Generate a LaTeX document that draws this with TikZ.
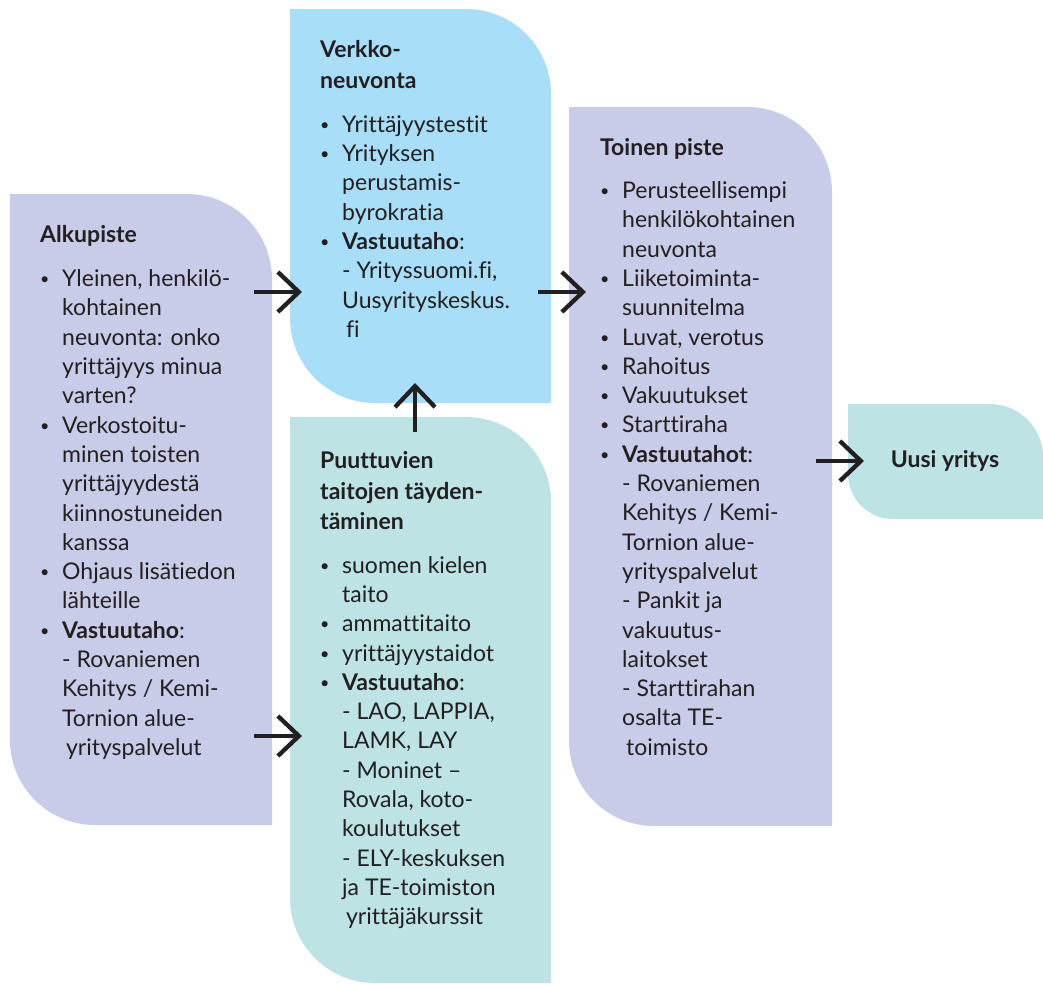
\documentclass[tikz,border=0pt]{standalone}
\usepackage{fontspec}
\setmainfont{Lato}[Ligatures=NoCommon]
\usetikzlibrary{arrows.meta,calc}
\definecolor{lila}{HTML}{C9CCE8}
\definecolor{taivas}{HTML}{A9DEF9}
\definecolor{turkoosi}{HTML}{BDE3E5}
\definecolor{tumma}{HTML}{231F20}
\newcommand{\pallo}{\makebox[22pt][l]{\raisebox{2pt}{\scalebox{0.7}{\textbullet}}}}
\newcommand{\sis}{\hspace*{22pt}}

\begin{document}
\begin{tikzpicture}[x=1pt,y=-1pt,
  laatikkoteksti/.style={anchor=north west,align=left,inner sep=0pt,text=tumma,font=\fontsize{23}{29.3}\selectfont},
  nuoli/.style={draw=tumma,line width=4.3pt,-{Straight Barb[length=21pt,width=40pt]}}]
\useasboundingbox (0,0) rectangle (1043,983);
\foreach \l/\t/\r/\b/\v in {10/194/272/825/lila, 290/9/551/403/taivas, 290/417/551/983/turkoosi, 569/107/832/826/lila}
	\fill[\v] (\l,\t) -- (\r-85,\t) arc[start angle=-90,end angle=0,radius=85] -- (\r,\b) -- (\l+85,\b) arc[start angle=90,end angle=180,radius=85] -- cycle;
\fill[turkoosi] (848,404) -- (990,404) arc[start angle=-90,end angle=0,radius=53] -- (1043,519) -- (893,519) arc[start angle=90,end angle=180,radius=45] -- cycle;

\node[laatikkoteksti] (alku) at (40,225) {\textbf{Alkupiste}\\[15pt]
\pallo Yleinen, henkilö-\\
\sis kohtainen\\
\sis neuvonta: onko\\
\sis yrittäjyys minua\\
\sis varten?\\
\pallo Verkostoitu-\\
\sis minen toisten\\
\sis yrittäjyydestä\\
\sis kiinnostuneiden\\
\sis kanssa\\
\pallo Ohjaus lisätiedon\\
\sis lähteille\\
\pallo \textbf{Vastuutaho}:\\
\sis - Rovaniemen\\
\sis Kehitys / Kemi-\\
\sis Tornion alue-\\
\sis\,yrityspalvelut};

\node[laatikkoteksti] (verkko) at (320,40) {\textbf{Verkko-}\\[1.5pt]
\textbf{neuvonta}\\[15pt]
\pallo Yrittäjyystestit\\
\pallo Yrityksen\\
\sis perustamis-\\
\sis byrokratia\\
\pallo \textbf{Vastuutaho}:\\
\sis - Yrityssuomi.fi,\\
\sis Uusyrityskeskus.\\
\sis\,fi};

\node[laatikkoteksti] (puute) at (320,451) {\textbf{Puuttuvien}\\[1.5pt]
\textbf{taitojen täyden-}\\[1.5pt]
\textbf{täminen}\\[14pt]
\pallo suomen kielen\\
\sis taito\\
\pallo ammattitaito\\
\pallo yrittäjyystaidot\\
\pallo \textbf{Vastuutaho}:\\
\sis - LAO, LAPPIA,\\
\sis LAMK, LAY\\
\sis - Moninet --\\
\sis Rovala, koto-\\
\sis koulutukset\\
\sis - ELY-keskuksen\\
\sis ja TE-toimiston\\
\sis\,yrittäjäkurssit};

\node[laatikkoteksti] (toinen) at (600,138) {\textbf{Toinen piste}\\[14pt]
\pallo Perusteellisempi\\
\sis henkilökohtainen\\
\sis neuvonta\\
\pallo Liiketoiminta-\\
\sis suunnitelma\\
\pallo Luvat, verotus\\
\pallo Rahoitus\\
\pallo Vakuutukset\\
\pallo Starttiraha\\
\pallo \textbf{Vastuutahot}:\\
\sis - Rovaniemen\\
\sis Kehitys / Kemi-\\
\sis Tornion alue-\\
\sis yrityspalvelut\\
\sis - Pankit ja\\
\sis vakuutus-\\
\sis laitokset\\
\sis - Starttirahan\\
\sis osalta TE-\\
\sis\,toimisto};

\node[text=tumma,font=\bfseries\fontsize{23}{28}\selectfont] (uusi) at (945,461) {Uusi yritys};

\coordinate (a1) at (254,292);
\coordinate (a2) at (302,292);
\coordinate (b1) at (254,736);
\coordinate (b2) at (302,736);
\coordinate (c1) at (415,432);
\coordinate (c2) at (415,383);
\coordinate (d1) at (538,292);
\coordinate (d2) at (586,292);
\coordinate (e1) at (816,461);
\coordinate (e2) at (864,461);
\foreach \p/\q in {a1/a2,b1/b2,c1/c2,d1/d2,e1/e2}
	\draw[nuoli] (\p) -- (\q);
\end{tikzpicture}
\end{document}
